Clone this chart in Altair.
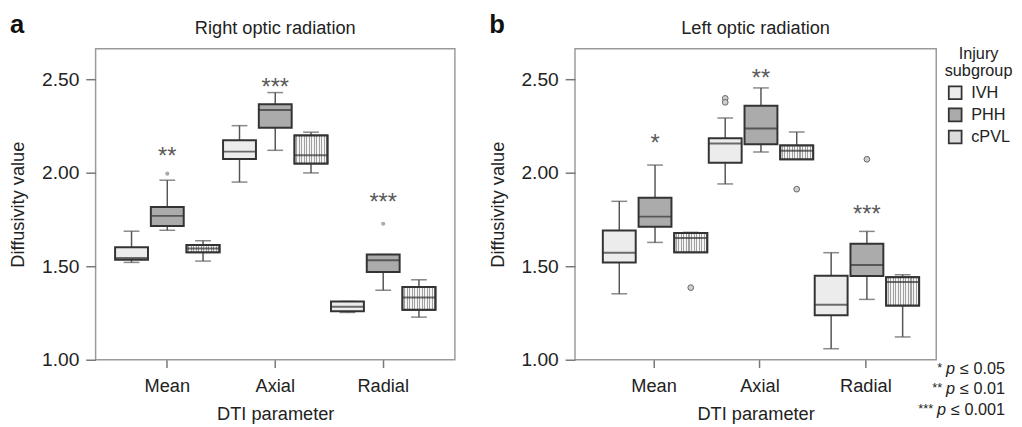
import altair as alt
import pandas as pd

CATS = ["Mean", "Axial", "Radial"]
GROUPS = ["IVH", "PHH", "cPVL"]
ROW_PARAM = ["Mean"] * 3 + ["Axial"] * 3 + ["Radial"] * 3
ROW_GROUP = GROUPS * 3

# Panel a - Right optic radiation
A_LOW = [1.521, 1.693, 1.528, 1.951, 2.121, 2.000, 1.253, 1.372, 1.228]
A_Q1 = [1.535, 1.716, 1.575, 2.075, 2.242, 2.051, 1.260, 1.470, 1.268]
A_MED = [1.544, 1.770, 1.595, 2.114, 2.337, 2.095, 1.284, 1.533, 1.333]
A_Q3 = [1.602, 1.818, 1.614, 2.175, 2.367, 2.200, 1.312, 1.563, 1.389]
A_HIGH = [1.688, 1.961, 1.637, 2.253, 2.430, 2.218, 1.312, 1.563, 1.428]
A_OUT_PARAM = ["Mean", "Radial"]
A_OUT_GROUP = ["PHH", "PHH"]
A_OUT_VAL = [1.996, 1.728]
A_SIG_PARAM = ["Mean", "Axial", "Radial"]
A_SIG_TEXT = ["**", "***", "***"]
A_SIG_VAL = [2.118, 2.488, 1.872]

# Panel b - Left optic radiation
B_LOW = [1.353, 1.628, 1.575, 1.941, 2.112, 2.073, 1.059, 1.323, 1.122]
B_Q1 = [1.521, 1.712, 1.575, 2.054, 2.154, 2.073, 1.238, 1.448, 1.290]
B_MED = [1.573, 1.766, 1.652, 2.157, 2.238, 2.119, 1.294, 1.507, 1.416]
B_Q3 = [1.692, 1.867, 1.678, 2.185, 2.360, 2.147, 1.449, 1.621, 1.441]
B_HIGH = [1.848, 2.042, 1.682, 2.294, 2.455, 2.219, 1.573, 1.687, 1.455]
B_OUT_PARAM = ["Mean", "Axial", "Axial", "Axial", "Radial"]
B_OUT_GROUP = ["cPVL", "IVH", "IVH", "cPVL", "PHH"]
B_OUT_VAL = [1.386, 2.399, 2.378, 1.913, 2.073]
B_SIG_PARAM = ["Mean", "Axial", "Radial"]
B_SIG_TEXT = ["*", "**", "***"]
B_SIG_VAL = [2.185, 2.535, 1.806]

FOOT_STARS = ["*", "**", "***"]
FOOT_VALS = ["\u2264 0.05", "\u2264 0.01", "\u2264 0.001"]

FILLS = ["#ececec", "#ababab", "#dcdcdc"]
FONT = "Liberation Sans"
H = 316

# vertical stripe gradient for cPVL boxes
_n = 13
_stops = []
for i in range(_n):
    a, b, c = i / _n, (i + 0.6) / _n, (i + 1) / _n
    _stops += [{"offset": a, "color": "#f4f4f4"}, {"offset": b, "color": "#f4f4f4"},
               {"offset": b, "color": "#a0a0a0"}, {"offset": c, "color": "#a0a0a0"}]
STRIPES = {"gradient": "linear", "x1": 0, "x2": 1, "y1": 0, "y2": 0, "stops": _stops}


def text_width(s, fs):
    w = {"\u2264": 0.584, " ": 0.278, ".": 0.278}
    return sum(w.get(ch, 0.556) for ch in s) * fs


def panel(letter, title, low, q1, med, q3, high, op, og, ov, sp, st, sv,
          width, pad_outer, align, outlier_style, legend, extra=None):
    df = pd.DataFrame({"param": ROW_PARAM, "group": ROW_GROUP, "low": low,
                       "q1": q1, "med": med, "q3": q3, "high": high})
    x = alt.X("param:N", sort=CATS,
              scale=alt.Scale(domain=CATS, paddingInner=0, paddingOuter=pad_outer, align=align),
              axis=alt.Axis(title="DTI parameter", labelAngle=0, tickSize=8, labelPadding=9,
                            titlePadding=10, domain=False, grid=False, labelFontSize=18.5))
    xo = alt.XOffset("group:N", sort=GROUPS,
                     scale=alt.Scale(domain=GROUPS, paddingInner=0.08, paddingOuter=0.05))
    yscale = alt.Scale(domain=[1.0, 2.665], nice=False, zero=False)
    yaxis = alt.Axis(title="Diffusivity value", values=[1.0, 1.5, 2.0, 2.5], format=".2f",
                     tickSize=10, labelPadding=7, titlePadding=14, domain=False, grid=False,
                     labelFontSize=19.5)

    base = alt.Chart(df)
    whisk = base.mark_rule(color="#555", strokeWidth=1.5).encode(
        x=x, xOffset=xo, y=alt.Y("low:Q", scale=yscale, axis=yaxis), y2="high:Q")
    cap_lo = base.mark_tick(color="#555", size=16, thickness=1.5).encode(
        x=x, xOffset=xo, y=alt.Y("low:Q", scale=yscale))
    cap_hi = base.mark_tick(color="#555", size=16, thickness=1.5).encode(
        x=x, xOffset=xo, y=alt.Y("high:Q", scale=yscale))
    box = base.mark_bar(stroke="#333", strokeWidth=2).encode(
        x=x, xOffset=xo, y=alt.Y("q1:Q", scale=yscale), y2="q3:Q",
        fill=alt.Fill("group:N", sort=GROUPS,
                      scale=alt.Scale(domain=GROUPS, range=FILLS), legend=legend))
    stripes = base.transform_filter(alt.datum.group == "cPVL").mark_bar(
        fill=STRIPES, stroke="#333", strokeWidth=2).encode(
        x=x, xOffset=xo, y=alt.Y("q1:Q", scale=yscale), y2="q3:Q")
    median = base.mark_tick(color="#333", size=34, thickness=2).encode(
        x=x, xOffset=xo, y=alt.Y("med:Q", scale=yscale))

    odf = pd.DataFrame({"param": op, "group": og, "val": ov})
    if outlier_style == "dot":
        outl = alt.Chart(odf).mark_circle(color="#ababab", opacity=1, size=18)
    else:
        outl = alt.Chart(odf).mark_point(shape="circle", filled=False, fill="#cfcfcf",
                                          stroke="#666", strokeWidth=1, size=34, opacity=1)
    outl = outl.encode(x=x, xOffset=xo, y=alt.Y("val:Q", scale=yscale))

    sdf = pd.DataFrame({"param": sp, "group": ["PHH"] * len(sp), "txt": st, "val": sv})
    sig = alt.Chart(sdf).mark_text(font=FONT, fontSize=24, color="#5a5a5a", dy=13,
                                   baseline="alphabetic").encode(
        x=x, xOffset=xo, y=alt.Y("val:Q", scale=yscale), text="txt:N")

    ttl = alt.Chart(pd.DataFrame({"t": [title]})).mark_text(
        font=FONT, fontSize=18.5, color="#222", baseline="alphabetic", align="center").encode(
        x=alt.value(width / 2), y=alt.value(-15), text="t:N")
    let = alt.Chart(pd.DataFrame({"t": [letter]})).mark_text(
        font=FONT, fontSize=26, fontWeight="bold", color="#111", baseline="alphabetic",
        align="left").encode(x=alt.value(-87), y=alt.value(-16), text="t:N")

    layers = [whisk, cap_lo, cap_hi, box, stripes, median, outl, sig, ttl, let]
    if extra is not None:
        layers += extra
    return alt.layer(*layers).properties(width=width, height=H)


# footnotes (drawn in right panel, right of plot)
foot_layers = []
RIGHT_W = 367
right_edge = 437
FS = 16.5
for i, (stars, val) in enumerate(zip(FOOT_STARS, FOOT_VALS)):
    yb = 330 + 21 * i
    wv = text_width(val, FS)
    fdf = pd.DataFrame({"t": [val]})
    foot_layers.append(alt.Chart(fdf).mark_text(
        font=FONT, fontSize=FS, color="#222", align="right", baseline="alphabetic").encode(
        x=alt.value(right_edge), y=alt.value(yb), text="t:N"))
    px = right_edge - wv - 4.5
    foot_layers.append(alt.Chart(pd.DataFrame({"t": ["p"]})).mark_text(
        font=FONT, fontSize=FS, fontStyle="italic", color="#222", align="right",
        baseline="alphabetic").encode(x=alt.value(px), y=alt.value(yb), text="t:N"))
    foot_layers.append(alt.Chart(pd.DataFrame({"t": [stars]})).mark_text(
        font=FONT, fontSize=13, color="#222", align="right", baseline="alphabetic").encode(
        x=alt.value(px - 13), y=alt.value(yb - 2), text="t:N"))

legend = alt.Legend(title=["Injury", "subgroup"], orient="none", legendX=376, legendY=-3,
                    symbolType="square", symbolSize=169, symbolStrokeColor="#333",
                    symbolStrokeWidth=1.8, labelFontSize=16.5, labelFont=FONT, titleFont=FONT,
                    titleFontSize=16.5, titleFontWeight="normal", titleAnchor="middle",
                    titleAlign="center", rowPadding=1.5, labelOffset=8, titlePadding=5,
                    titleLineHeight=18, labelColor="#222", titleColor="#222")

left = panel("a", "Right optic radiation", A_LOW, A_Q1, A_MED, A_Q3, A_HIGH,
             A_OUT_PARAM, A_OUT_GROUP, A_OUT_VAL, A_SIG_PARAM, A_SIG_TEXT, A_SIG_VAL,
             365, 0.164, 0.5, "dot", None)
right = panel("b", "Left optic radiation", B_LOW, B_Q1, B_MED, B_Q3, B_HIGH,
              B_OUT_PARAM, B_OUT_GROUP, B_OUT_VAL, B_SIG_PARAM, B_SIG_TEXT, B_SIG_VAL,
              RIGHT_W, 0.205, 0.6, "circle", legend, extra=foot_layers)

chart = alt.hconcat(left, right, spacing=32).resolve_scale(fill="independent").resolve_legend(
    fill="independent").properties(padding=0).configure_view(
    stroke="#9a9a9a", strokeWidth=1.5).configure_axis(
    labelFont=FONT, titleFont=FONT, labelFontSize=18.5, titleFontSize=18.5,
    labelColor="#222", titleColor="#222", titleFontWeight="normal",
    tickColor="#777", tickWidth=1.5)

chart.save("out.html", embed_options={"renderer": "svg", "actions": False})
